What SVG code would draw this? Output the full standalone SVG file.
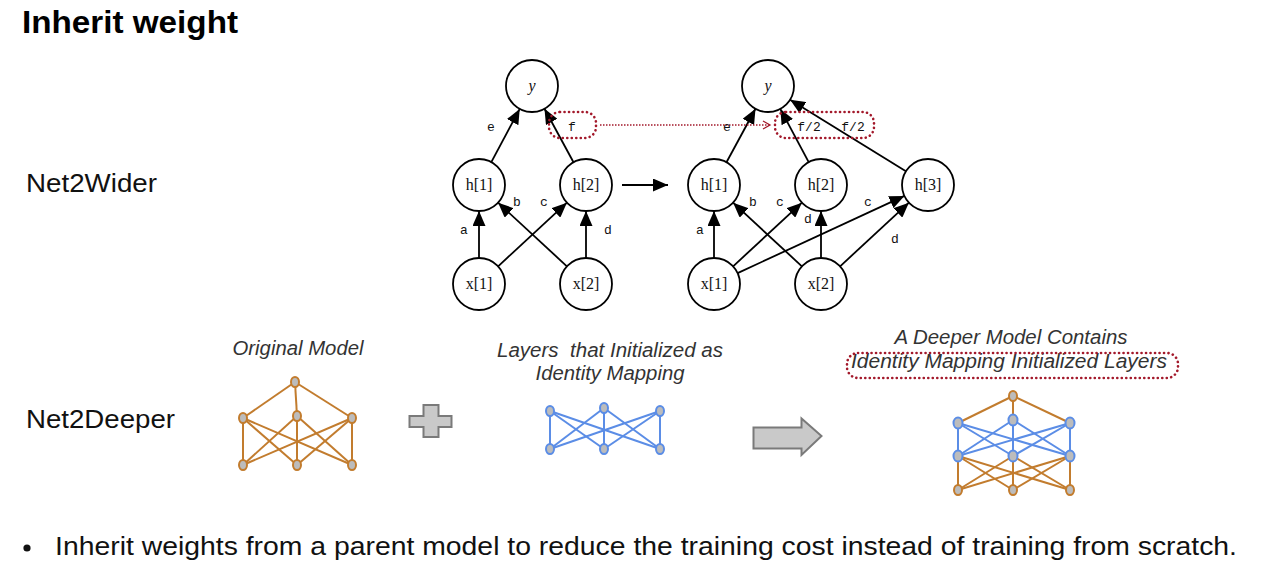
<svg xmlns="http://www.w3.org/2000/svg" width="1268" height="584" viewBox="0 0 1268 584">
<defs>
<style>
.bg{fill:#ffffff}
.title{font-family:"Liberation Sans",Arial,sans-serif;font-weight:bold;font-size:31px;fill:#000}
.sec{font-family:"Liberation Sans",Arial,sans-serif;font-size:25px;fill:#111}
.bul{font-family:"Liberation Sans",Arial,sans-serif;font-size:25px;fill:#111}
.cap{font-family:"Liberation Sans",Arial,sans-serif;font-style:italic;font-size:20px;fill:#333;text-anchor:middle}
.node circle{fill:#fff;stroke:#000;stroke-width:1.8}
.node text{font-family:"Liberation Serif","DejaVu Serif",serif;font-size:16px;fill:#111;text-anchor:middle}
.node text.it{font-style:italic}
.edge{stroke:#000;stroke-width:1.8;fill:none;marker-end:url(#ah)}
.lbl{font-family:"Liberation Mono","DejaVu Sans Mono",monospace;font-size:13px;fill:#111;text-anchor:middle}
.dotbox{fill:none;stroke:#a3192b;stroke-width:2.6;stroke-linecap:round;stroke-dasharray:0.1 4.4}
.dotline{fill:none;stroke:#a3192b;stroke-width:1.3;stroke-dasharray:1.5 1.5}
.br line{stroke:#c27c2e;stroke-width:2}
.bl line{stroke:#5b8de6;stroke-width:2}
.nb{fill:#bcbcbc;stroke:#c27c2e;stroke-width:2}
.nbl{fill:#bcbcbc;stroke:#5b8de6;stroke-width:2}
.gshape{fill:#c9c9c9;stroke:#7a7a7a;stroke-width:2}
</style>
<marker id="ah" markerUnits="userSpaceOnUse" markerWidth="15" markerHeight="13" refX="15" refY="6.5" orient="auto">
<path d="M0,0 L15,6.5 L0,13 z" fill="#000"/>
</marker>
<marker id="ahr" markerUnits="userSpaceOnUse" markerWidth="10" markerHeight="10" refX="8" refY="5" orient="auto">
<path d="M1,1 L8,5 L1,9" fill="none" stroke="#a3192b" stroke-width="1.3"/>
</marker>
</defs>
<rect class="bg" x="0" y="0" width="1268" height="584"/>

<text class="title" x="22" y="33" textLength="216" lengthAdjust="spacingAndGlyphs">Inherit weight</text>
<text class="sec" x="26" y="192" textLength="131" lengthAdjust="spacingAndGlyphs">Net2Wider</text>
<text class="sec" x="26" y="428" textLength="149" lengthAdjust="spacingAndGlyphs">Net2Deeper</text>
<circle cx="27" cy="548" r="3.6" fill="#111"/>
<text class="bul" x="55" y="555" textLength="1182" lengthAdjust="spacingAndGlyphs">Inherit weights from a parent model to reduce the training cost instead of training from scratch.</text>

<g id="connectors">
<!-- left network -->
<line class="edge" x1="479" y1="258" x2="479" y2="211"/>
<line class="edge" x1="586" y1="258" x2="586" y2="211"/>
<line class="edge" x1="498.1" y1="266.3" x2="566.9" y2="202.7"/>
<line class="edge" x1="566.9" y1="266.3" x2="498.1" y2="202.7"/>
<line class="edge" x1="491.3" y1="162.1" x2="519.7" y2="108.9"/>
<line class="edge" x1="573.5" y1="162.2" x2="544.5" y2="108.8"/>
<!-- transform arrow -->
<line class="edge" x1="622" y1="185" x2="668" y2="185"/>
<!-- right network -->
<line class="edge" x1="714" y1="258" x2="714" y2="211"/>
<line class="edge" x1="821" y1="258" x2="821" y2="211"/>
<line class="edge" x1="733.1" y1="266.3" x2="801.9" y2="202.7"/>
<line class="edge" x1="801.9" y1="266.3" x2="733.1" y2="202.7"/>
<line class="edge" x1="737.6" y1="273.1" x2="904.4" y2="195.9"/>
<line class="edge" x1="840.1" y1="266.3" x2="908.9" y2="202.7"/>
<line class="edge" x1="726.5" y1="162.2" x2="755.5" y2="108.8"/>
<line class="edge" x1="808.7" y1="162.1" x2="780.3" y2="108.9"/>
<line class="edge" x1="905.9" y1="171.3" x2="790.1" y2="99.7"/>
<!-- dotted weight link -->
<line class="dotline" x1="600" y1="125" x2="770" y2="125" marker-end="url(#ahr)"/>
</g>

<g id="edge-labels">
<text class="lbl" x="491" y="131">e</text>
<text class="lbl" x="572" y="131">f</text>
<text class="lbl" x="517" y="206">b</text>
<text class="lbl" x="544" y="206">c</text>
<text class="lbl" x="464" y="234">a</text>
<text class="lbl" x="608" y="234">d</text>
<text class="lbl" x="727" y="131">e</text>
<text class="lbl" x="809" y="131">f/2</text>
<text class="lbl" x="853" y="131">f/2</text>
<text class="lbl" x="753" y="206">b</text>
<text class="lbl" x="780" y="206">c</text>
<text class="lbl" x="808" y="223">d</text>
<text class="lbl" x="868" y="206">c</text>
<text class="lbl" x="895" y="243">d</text>
<text class="lbl" x="700" y="234">a</text>
</g>

<rect id="box-f" class="dotbox" x="549" y="112" width="47" height="26" rx="11"/>
<rect id="box-f2" class="dotbox" x="775" y="112" width="99" height="26" rx="11"/>

<g id="L-y" class="node"><circle cx="532" cy="86" r="26"/><text class="it" x="532" y="91">y</text></g>
<g id="L-h1" class="node"><circle cx="479" cy="185" r="26"/><text x="479" y="190">h[1]</text></g>
<g id="L-h2" class="node"><circle cx="586" cy="185" r="26"/><text x="586" y="190">h[2]</text></g>
<g id="L-x1" class="node"><circle cx="479" cy="284" r="26"/><text x="479" y="289">x[1]</text></g>
<g id="L-x2" class="node"><circle cx="586" cy="284" r="26"/><text x="586" y="289">x[2]</text></g>

<g id="R-y" class="node"><circle cx="768" cy="86" r="26"/><text class="it" x="768" y="91">y</text></g>
<g id="R-h1" class="node"><circle cx="714" cy="185" r="26"/><text x="714" y="190">h[1]</text></g>
<g id="R-h2" class="node"><circle cx="821" cy="185" r="26"/><text x="821" y="190">h[2]</text></g>
<g id="R-h3" class="node"><circle cx="928" cy="185" r="26"/><text x="928" y="190">h[3]</text></g>
<g id="R-x1" class="node"><circle cx="714" cy="284" r="26"/><text x="714" y="289">x[1]</text></g>
<g id="R-x2" class="node"><circle cx="821" cy="284" r="26"/><text x="821" y="289">x[2]</text></g>

<!-- Net2Deeper -->
<text class="cap" x="298" y="355" textLength="131" lengthAdjust="spacingAndGlyphs">Original Model</text>
<text class="cap" x="610" y="357" textLength="226" lengthAdjust="spacingAndGlyphs" xml:space="preserve">Layers  that Initialized as</text>
<text class="cap" x="610" y="380" textLength="149" lengthAdjust="spacingAndGlyphs">Identity Mapping</text>
<text class="cap" x="1011" y="344" textLength="233" lengthAdjust="spacingAndGlyphs">A Deeper Model Contains</text>
<text class="cap" x="1009" y="368" textLength="316" lengthAdjust="spacingAndGlyphs">Identity Mapping Initialized Layers</text>
<rect id="box-deeper" class="dotbox" x="847" y="353" width="331" height="25" rx="11"/>

<g id="original-model">
<g class="br">
<line x1="295" y1="382" x2="243" y2="418"/><line x1="295" y1="382" x2="297" y2="416"/><line x1="295" y1="382" x2="352" y2="418"/>
<line x1="243" y1="418" x2="243" y2="465"/><line x1="243" y1="418" x2="297" y2="465"/><line x1="243" y1="418" x2="352" y2="465"/>
<line x1="297" y1="416" x2="243" y2="465"/><line x1="297" y1="416" x2="297" y2="465"/><line x1="297" y1="416" x2="352" y2="465"/>
<line x1="352" y1="418" x2="243" y2="465"/><line x1="352" y1="418" x2="297" y2="465"/><line x1="352" y1="418" x2="352" y2="465"/>
</g>
<ellipse class="nb" cx="295" cy="382" rx="4" ry="5"/>
<ellipse class="nb" cx="243" cy="418" rx="4" ry="5"/><ellipse class="nb" cx="297" cy="416" rx="4" ry="5"/><ellipse class="nb" cx="352" cy="418" rx="4" ry="5"/>
<ellipse class="nb" cx="243" cy="465" rx="4" ry="5"/><ellipse class="nb" cx="297" cy="465" rx="4" ry="5"/><ellipse class="nb" cx="352" cy="465" rx="4" ry="5"/>
</g>

<polygon id="plus" class="gshape" points="423.5,405 438.5,405 438.5,416 451.5,416 451.5,427 438.5,427 438.5,437 423.5,437 423.5,427 409.5,427 409.5,416 423.5,416"/>

<g id="identity-layers">
<g class="bl">
<line x1="550" y1="411" x2="550" y2="449"/><line x1="550" y1="411" x2="604" y2="449"/><line x1="550" y1="411" x2="660" y2="449"/>
<line x1="604" y1="408" x2="550" y2="449"/><line x1="604" y1="408" x2="604" y2="449"/><line x1="604" y1="408" x2="660" y2="449"/>
<line x1="660" y1="411" x2="550" y2="449"/><line x1="660" y1="411" x2="604" y2="449"/><line x1="660" y1="411" x2="660" y2="449"/>
</g>
<ellipse class="nbl" cx="550" cy="411" rx="4" ry="5"/><ellipse class="nbl" cx="604" cy="408" rx="4" ry="5"/><ellipse class="nbl" cx="660" cy="411" rx="4" ry="5"/>
<ellipse class="nbl" cx="550" cy="449" rx="4" ry="5"/><ellipse class="nbl" cx="604" cy="449" rx="4" ry="5"/><ellipse class="nbl" cx="660" cy="449" rx="4" ry="5"/>
</g>

<polygon id="big-arrow" class="gshape" points="753.5,427.5 801.5,427.5 801.5,418.5 821.5,436 801.5,455 801.5,448.5 753.5,448.5"/>

<g id="deeper-model">
<g class="br">
<line x1="1013" y1="396" x2="958" y2="423"/><line x1="1013" y1="396" x2="1013" y2="420"/><line x1="1013" y1="396" x2="1070" y2="423"/>
<line x1="958" y1="456" x2="958" y2="490"/><line x1="958" y1="456" x2="1013" y2="490"/><line x1="958" y1="456" x2="1070" y2="490"/>
<line x1="1013" y1="456" x2="958" y2="490"/><line x1="1013" y1="456" x2="1013" y2="490"/><line x1="1013" y1="456" x2="1070" y2="490"/>
<line x1="1070" y1="456" x2="958" y2="490"/><line x1="1070" y1="456" x2="1013" y2="490"/><line x1="1070" y1="456" x2="1070" y2="490"/>
</g>
<g class="bl">
<line x1="958" y1="423" x2="958" y2="456"/><line x1="958" y1="423" x2="1013" y2="456"/><line x1="958" y1="423" x2="1070" y2="456"/>
<line x1="1013" y1="420" x2="958" y2="456"/><line x1="1013" y1="420" x2="1013" y2="456"/><line x1="1013" y1="420" x2="1070" y2="456"/>
<line x1="1070" y1="423" x2="958" y2="456"/><line x1="1070" y1="423" x2="1013" y2="456"/><line x1="1070" y1="423" x2="1070" y2="456"/>
</g>
<ellipse class="nb" cx="1013" cy="396" rx="4" ry="5"/>
<ellipse class="nbl" cx="958" cy="423" rx="4.5" ry="5.5"/><ellipse class="nbl" cx="1013" cy="420" rx="4.5" ry="5.5"/><ellipse class="nbl" cx="1070" cy="423" rx="4.5" ry="5.5"/>
<ellipse class="nbl" cx="958" cy="456" rx="4.5" ry="5.5"/><ellipse class="nbl" cx="1013" cy="456" rx="4.5" ry="5.5"/><ellipse class="nbl" cx="1070" cy="456" rx="4.5" ry="5.5"/>
<ellipse class="nb" cx="958" cy="490" rx="4" ry="5"/><ellipse class="nb" cx="1013" cy="490" rx="4" ry="5"/><ellipse class="nb" cx="1070" cy="490" rx="4" ry="5"/>
</g>
</svg>
